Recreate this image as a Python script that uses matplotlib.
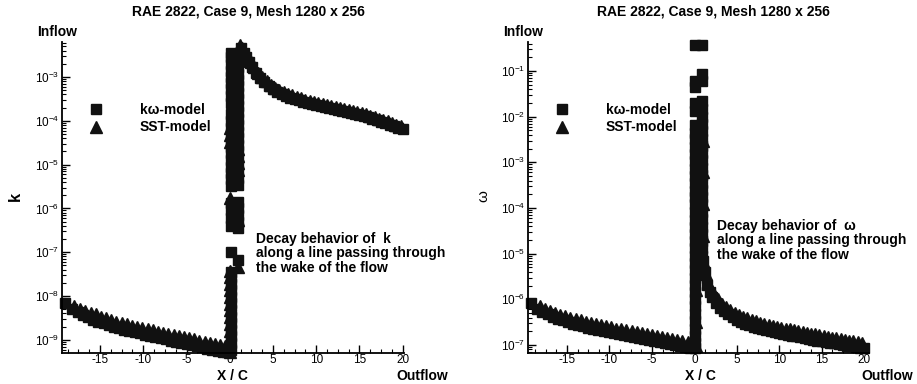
import matplotlib
matplotlib.use('Agg')
import matplotlib.pyplot as plt
from matplotlib.ticker import MultipleLocator, LogLocator, NullFormatter

plt.rcParams['font.family'] = ['Liberation Sans', 'DejaVu Sans']
plt.rcParams['mathtext.default'] = 'regular'
plt.rcParams['axes.unicode_minus'] = False

# ---- k, left panel ----
# upstream of the airfoil
kw_up_x = [-19.0, -18.3, -17.6, -17.0, -16.4, -15.8, -15.2, -14.6, -14.0, -13.4, -12.8, -12.2, -11.6, -11.0, -10.4, -9.8,
           -9.2, -8.6, -8.0, -7.4, -6.8, -6.2, -5.6, -5.0, -4.4, -3.8, -3.2, -2.6, -2.0, -1.4, -0.8, -0.3]
kw_up_k = [6.8e-9, 5.2e-9, 4.3e-9, 3.7e-9, 3.3e-9, 2.9e-9, 2.6e-9, 2.4e-9, 2.2e-9, 2.0e-9, 1.85e-9, 1.7e-9, 1.6e-9, 1.5e-9,
           1.4e-9, 1.32e-9, 1.24e-9, 1.16e-9, 1.09e-9, 1.02e-9, 9.6e-10, 9.0e-10, 8.5e-10, 8.0e-10, 7.5e-10, 7.1e-10,
           6.7e-10, 6.3e-10, 6.0e-10, 5.7e-10, 5.4e-10, 5.2e-10]
sst_up_x = [-18.0, -17.3, -16.7, -16.1, -15.5, -14.9, -14.3, -13.7, -13.1, -12.5, -11.9, -11.3, -10.7, -10.1, -9.5, -8.9,
            -8.3, -7.7, -7.1, -6.5, -5.9, -5.3, -4.7, -4.1, -3.5, -2.9, -2.3, -1.7, -1.1, -0.6]
sst_up_k = [6.0e-9, 5.2e-9, 4.6e-9, 4.2e-9, 3.8e-9, 3.4e-9, 3.1e-9, 2.85e-9, 2.6e-9, 2.4e-9, 2.25e-9, 2.1e-9, 1.95e-9,
            1.85e-9, 1.75e-9, 1.65e-9, 1.55e-9, 1.46e-9, 1.38e-9, 1.3e-9, 1.22e-9, 1.15e-9, 1.08e-9, 1.02e-9, 9.6e-10,
            9.1e-10, 8.6e-10, 8.1e-10, 7.6e-10, 7.2e-10]
# points on the airfoil (x/c between 0 and 1)
kw_col_x = [0.1, 0.9]
kw_col_k = [[6e-10, 8.5e-10, 1.2e-9, 1.7e-9, 2.4e-9, 3.4e-9, 4.8e-9, 6.8e-9, 9.6e-9, 1.35e-8, 1.9e-8, 2.7e-8, 3.5e-8,
             1e-7, 4e-7, 6e-7, 9e-7, 1.3e-6, 3.3e-6, 4.6e-6, 6.5e-6, 9e-6, 1.3e-5, 1.8e-5, 2.5e-5, 3.5e-5, 5e-5, 7e-5,
             1e-4, 1.4e-4, 2.6e-4, 3.7e-4, 5.2e-4, 7.3e-4, 1e-3, 1.4e-3, 2e-3, 2.8e-3, 3.6e-3],
            [6.5e-8, 3.5e-7, 5e-7, 7e-7, 1e-6, 1.4e-6, 3.5e-6, 5e-6, 7e-6, 1e-5, 1.4e-5, 2e-5, 2.8e-5, 4e-5, 5.6e-5,
             8e-5, 1.1e-4, 1.6e-4, 2.2e-4, 3.1e-4, 4.4e-4, 6.2e-4, 8.7e-4, 1.2e-3, 1.7e-3, 2.4e-3, 3.4e-3]]
sst_col_x = [0.05, 1.0]
sst_col_k = [[5.2e-10, 7.5e-10, 1.1e-9, 1.6e-9, 2.3e-9, 3.3e-9, 4.7e-9, 6.7e-9, 9.5e-9, 1.35e-8, 1.9e-8, 2.7e-8, 3.7e-8,
              1.7e-6, 3.3e-5, 4.7e-5, 6.7e-5],
             [4.6e-8, 5.5e-7, 7.6e-6, 1.1e-5, 1.6e-5, 2.3e-5]]
# wake
kw_down_x = [1.3, 1.6, 1.9, 2.2, 2.6, 3.0, 3.5, 4.0, 4.5, 5.0, 5.5, 6.0, 6.5, 7.0, 7.5, 8.0, 8.5, 9.0, 9.5, 10.0, 10.5,
             11.0, 11.5, 12.0, 12.5, 13.0, 13.5, 14.0, 14.5, 15.0, 15.5, 16.0, 16.5, 17.0, 17.5, 18.0, 18.5, 19.0, 19.5, 20.0]
kw_down_k = [4.5e-3, 3.6e-3, 2.8e-3, 2.2e-3, 1.65e-3, 1.25e-3, 9.5e-4, 7.6e-4, 6.3e-4, 5.3e-4, 4.6e-4, 4.1e-4, 3.7e-4,
             3.4e-4, 3.15e-4, 2.95e-4, 2.75e-4, 2.6e-4, 2.45e-4, 2.3e-4, 2.2e-4, 2.1e-4, 2.0e-4, 1.9e-4, 1.8e-4, 1.7e-4,
             1.62e-4, 1.53e-4, 1.45e-4, 1.37e-4, 1.28e-4, 1.2e-4, 1.12e-4, 1.04e-4, 9.6e-5, 8.9e-5, 8.2e-5, 7.5e-5,
             6.9e-5, 6.4e-5]
sst_down_x = [1.15, 1.45, 1.75, 2.05, 2.4, 2.8, 3.25, 3.75, 4.25, 4.75, 5.25, 5.75, 6.25, 6.75, 7.25, 7.75, 8.25, 8.75,
              9.25, 9.75, 10.25, 10.75, 11.25, 11.75, 12.25, 12.75, 13.25, 13.75, 14.25, 14.75, 15.25, 15.75, 16.25,
              16.75, 17.25, 17.75, 18.25, 18.75, 19.25, 19.75]
sst_down_k = [5.5e-3, 4.6e-3, 3.7e-3, 2.9e-3, 2.2e-3, 1.65e-3, 1.25e-3, 9.8e-4, 8.0e-4, 6.7e-4, 5.7e-4, 5.0e-4, 4.5e-4,
              4.1e-4, 3.8e-4, 3.5e-4, 3.25e-4, 3.05e-4, 2.85e-4, 2.7e-4, 2.55e-4, 2.42e-4, 2.3e-4, 2.18e-4, 2.07e-4,
              1.96e-4, 1.86e-4, 1.76e-4, 1.67e-4, 1.58e-4, 1.49e-4, 1.4e-4, 1.31e-4, 1.22e-4, 1.13e-4, 1.05e-4, 9.7e-5,
              8.9e-5, 8.2e-5, 7.5e-5]

# ---- omega, right panel ----
kw_up_xw = [-19.2, -18.5, -17.9, -17.3, -16.7, -16.1, -15.5, -14.9, -14.3, -13.7, -13.1, -12.5, -11.9, -11.3, -10.7,
            -10.1, -9.5, -8.9, -8.3, -7.7, -7.1, -6.5, -5.9, -5.3, -4.7, -4.1, -3.5, -2.9, -2.3, -1.7, -1.1, -0.5]
kw_up_w = [8.5e-7, 6.3e-7, 5.3e-7, 4.7e-7, 4.2e-7, 3.8e-7, 3.5e-7, 3.2e-7, 2.95e-7, 2.75e-7, 2.55e-7, 2.4e-7, 2.25e-7,
           2.12e-7, 2.0e-7, 1.9e-7, 1.8e-7, 1.71e-7, 1.63e-7, 1.55e-7, 1.48e-7, 1.41e-7, 1.35e-7, 1.29e-7, 1.23e-7,
           1.17e-7, 1.12e-7, 1.07e-7, 1.02e-7, 9.7e-8, 9.2e-8, 8.7e-8]
sst_up_xw = [-18.2, -17.6, -17.0, -16.4, -15.8, -15.2, -14.6, -14.0, -13.4, -12.8, -12.2, -11.6, -11.0, -10.4, -9.8,
             -9.2, -8.6, -8.0, -7.4, -6.8, -6.2, -5.6, -5.0, -4.4, -3.8, -3.2, -2.6, -2.0, -1.4, -0.8]
sst_up_w = [7e-7, 6.2e-7, 5.5e-7, 5e-7, 4.6e-7, 4.3e-7, 4.0e-7, 3.7e-7, 3.45e-7, 3.2e-7, 3.0e-7, 2.85e-7, 2.7e-7,
            2.55e-7, 2.42e-7, 2.3e-7, 2.2e-7, 2.1e-7, 2.0e-7, 1.9e-7, 1.82e-7, 1.74e-7, 1.66e-7, 1.58e-7, 1.5e-7,
            1.43e-7, 1.36e-7, 1.29e-7, 1.22e-7, 1.15e-7]
kw_col_xw = [0.1, 0.95]
kw_col_w = [[0.37, 0.06, 0.045, 0.02, 0.013, 6.5e-3, 4.5e-3, 3.2e-3, 2.2e-3, 1.5e-3, 1.05e-3, 7.3e-4, 5e-4, 3.5e-4,
             2.4e-4, 1.7e-4, 1.2e-4, 8e-5, 5.6e-5, 3.9e-5, 2.7e-5, 1.9e-5, 1.3e-5, 9e-6, 6.2e-6, 4.3e-6, 3e-6, 2.1e-6,
             1.45e-6, 1e-6, 7e-7, 4.8e-7, 3.3e-7, 2.3e-7, 1.6e-7, 1.1e-7, 8.5e-8],
            [0.37, 0.085, 0.06, 0.022, 0.015, 0.01, 7e-3, 4.8e-3, 3.3e-3, 2.3e-3, 1.6e-3, 1.1e-3, 7.6e-4, 5.2e-4,
             3.6e-4, 2.5e-4, 1.7e-4, 1.2e-4, 8.2e-5, 5.7e-5, 3.9e-5, 2.7e-5, 1.9e-5, 1.3e-5, 9e-6]]
sst_col_xw = [0.2, 1.0]
sst_col_w = [[5e-3, 1e-3, 2e-4, 4e-5, 8e-6, 1.6e-6, 3.2e-7, 9.5e-8],
             [3e-3, 6e-4, 1.2e-4, 2.5e-5, 7e-6]]
kw_down_xw = [1.0, 1.2, 1.5, 1.8, 2.1, 2.5, 3.0, 3.5, 4.0, 4.5, 5.0, 5.5, 6.0, 6.5, 7.0, 7.5, 8.0, 8.5, 9.0, 9.5, 10.0,
              10.5, 11.0, 11.5, 12.0, 12.5, 13.0, 13.5, 14.0, 14.5, 15.0, 15.5, 16.0, 16.5, 17.0, 17.5, 18.0, 18.5,
              19.0, 19.5, 20.0]
kw_down_w = [7e-6, 4e-6, 2.1e-6, 1.45e-6, 1.1e-6, 8.5e-7, 6.6e-7, 5.5e-7, 4.7e-7, 4.1e-7, 3.6e-7, 3.25e-7, 2.95e-7,
             2.7e-7, 2.5e-7, 2.35e-7, 2.2e-7, 2.1e-7, 2.0e-7, 1.92e-7, 1.85e-7, 1.77e-7, 1.69e-7, 1.61e-7, 1.54e-7,
             1.47e-7, 1.41e-7, 1.35e-7, 1.3e-7, 1.25e-7, 1.2e-7, 1.16e-7, 1.12e-7, 1.08e-7, 1.04e-7, 1.0e-7, 9.7e-8,
             9.4e-8, 9.1e-8, 8.8e-8, 8.5e-8]
sst_down_xw = [1.35, 1.65, 1.95, 2.3, 2.75, 3.25, 3.75, 4.25, 4.75, 5.25, 5.75, 6.25, 6.75, 7.25, 7.75, 8.25, 8.75,
               9.25, 9.75, 10.25, 10.75, 11.25, 11.75, 12.25, 12.75, 13.25, 13.75, 14.25, 14.75, 15.25, 15.75, 16.25,
               16.75, 17.25, 17.75, 18.25, 18.75, 19.25, 19.75]
sst_down_w = [3.6e-6, 2.3e-6, 1.7e-6, 1.3e-6, 1.0e-6, 8.0e-7, 6.7e-7, 5.8e-7, 5.1e-7, 4.6e-7, 4.2e-7, 3.85e-7, 3.55e-7,
              3.3e-7, 3.1e-7, 2.92e-7, 2.77e-7, 2.63e-7, 2.5e-7, 2.4e-7, 2.3e-7, 2.2e-7, 2.1e-7, 2.01e-7, 1.92e-7,
              1.84e-7, 1.77e-7, 1.7e-7, 1.63e-7, 1.57e-7, 1.51e-7, 1.45e-7, 1.4e-7, 1.35e-7, 1.3e-7, 1.25e-7, 1.2e-7,
              1.15e-7, 1.1e-7]

k_ticks = [1e-9, 1e-8, 1e-7, 1e-6, 1e-5, 1e-4, 1e-3]
w_ticks = [1e-7, 1e-6, 1e-5, 1e-4, 1e-3, 1e-2, 1e-1]
x_ticks = [-15, -10, -5, 0, 5, 10, 15, 20]

title = 'RAE 2822, Case 9, Mesh 1280 x 256'
col = '#111111'

fig = plt.figure(figsize=(9.17, 3.84), dpi=100)
ax1 = fig.add_axes([0.0676, 0.0807, 0.373, 0.81])
ax2 = fig.add_axes([0.5758, 0.0807, 0.372, 0.81])


def draw(ax, up, col_part, down, sst_up, sst_col, sst_down, yt):
    sq = dict(marker='s', ms=7.5, ls='none', color=col, mec=col, clip_on=False)
    tri = dict(marker='^', ms=8, ls='none', color=col, mec=col, clip_on=False)
    ax.plot(sst_up[0], sst_up[1], **tri)
    ax.plot(sst_down[0], sst_down[1], **tri)
    for xc, yc in zip(sst_col[0], sst_col[1]):
        ax.plot([xc] * len(yc), yc, **tri)
    h1, = ax.plot(up[0], up[1], **sq)
    ax.plot(down[0], down[1], **sq)
    for xc, yc in zip(col_part[0], col_part[1]):
        ax.plot([xc] * len(yc), yc, **sq)
    h2, = ax.plot([], [], **tri)
    ax.set_yscale('log')
    for s in ['top', 'right']:
        ax.spines[s].set_visible(False)
    for s in ['left', 'bottom']:
        ax.spines[s].set_linewidth(1.3)
    ax.set_xticks(x_ticks)
    ax.xaxis.set_minor_locator(MultipleLocator(1.25))
    ax.set_yticks(yt)
    ax.yaxis.set_minor_locator(LogLocator(base=10, subs=[2, 3, 4, 5, 6, 7, 8, 9], numticks=20))
    ax.yaxis.set_minor_formatter(NullFormatter())
    ax.tick_params(which='major', direction='in', length=6, width=1, labelsize=8.5, pad=2)
    ax.tick_params(axis='x', which='major', pad=1)
    ax.tick_params(which='minor', direction='in', length=3, width=0.8)
    return h1, h2


h1, h2 = draw(ax1, (kw_up_x, kw_up_k), (kw_col_x, kw_col_k), (kw_down_x, kw_down_k),
              (sst_up_x, sst_up_k), (sst_col_x, sst_col_k), (sst_down_x, sst_down_k), k_ticks)
ax1.set_xlim(-19.4, 20.15)
ax1.set_ylim(10 ** -9.3, 10 ** -2.2)

g1, g2 = draw(ax2, (kw_up_xw, kw_up_w), (kw_col_xw, kw_col_w), (kw_down_xw, kw_down_w),
              (sst_up_xw, sst_up_w), (sst_col_xw, sst_col_w), (sst_down_xw, sst_down_w), w_ticks)
ax2.set_xlim(-19.6, 20.6)
ax2.set_ylim(10 ** -7.175, 10 ** -0.364)

W, H = 917.0, 384.0


def ftxt(x, y, s, **kw):
    fig.text(x / W, 1 - y / H, s, **kw)


for ax, xl, hh, sym, ylx, tx, ox, xcx, lgx, wt, fs in [
        (ax1, 62, (h1, h2), 'k', 15, 248, 422, 232, 83, 'bold', 12),
        (ax2, 528, (g1, g2), 'ω', 483, 713, 887, 700, 549, 'normal', 11)]:
    ftxt(tx, 12, title, fontsize=10, fontweight='bold', ha='center', va='center')
    ftxt(xl - 5, 32, 'Inflow', fontsize=10, fontweight='bold', ha='center', va='center')
    ftxt(ox, 376, 'Outflow', fontsize=10, fontweight='bold', ha='center', va='center')
    ftxt(xcx, 376, 'X / C', fontsize=10, fontweight='bold', ha='center', va='center')
    ftxt(ylx, 196, sym, fontsize=fs, fontweight=wt, ha='center', va='center', rotation=90)
    ax.legend(hh, ['kω-model', 'SST-model'], loc='upper left', frameon=False,
              bbox_to_anchor=(lgx / W, 1 - 103 / H), bbox_transform=fig.transFigure,
              borderaxespad=0, borderpad=0, handlelength=1.8, handletextpad=2.3, labelspacing=0.25,
              prop={'weight': 'bold', 'size': 10}, numpoints=1)

ftxt(256, 232, 'Decay behavior of  k\nalong a line passing through\nthe wake of the flow',
     fontsize=10, fontweight='bold', ha='left', va='top', linespacing=1.03)
ftxt(717, 219, 'Decay behavior of  ω\nalong a line passing through\nthe wake of the flow',
     fontsize=10, fontweight='bold', ha='left', va='top', linespacing=1.03)

plt.savefig('out.png', dpi=100)
